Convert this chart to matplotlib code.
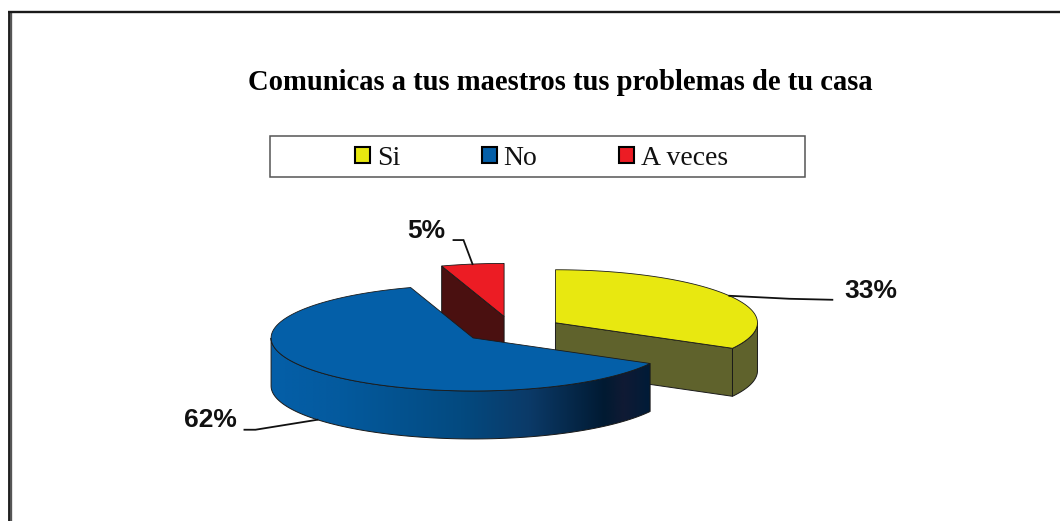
import numpy as np
import matplotlib
matplotlib.use("Agg")
import matplotlib.pyplot as plt
from matplotlib.colors import LinearSegmentedColormap
from matplotlib.patches import Patch, Polygon, Rectangle

# ---- data ----
categories = ["Si", "No", "A veces"]
values = [33, 62, 5]
title = "Comunicas a tus maestros tus problemas de tu casa"

# ---- style ----
top_colors = ["#e8e810", "#045fa8", "#ec1c24"]
cut_colors = ["#5f622c", "#024a80", "#4a1010"]
edge = "#1a1a1a"
CX, CY = 512, 329.5   # pie centre in pixels before exploding
RX, RY = 202, 53      # ellipse radii
DEPTH = 48
EXPLODE = 0.25
START = 90            # degrees, slices run clockwise
# label offset from the anchor in pixels: elbow, line end, ha
LEADERS = {"Si": ((60, 3), (103, 4), "left"),
           "No": ((-62, 10), (-73, 10), "right"),
           "A veces": ((-9, -24), (-19, -24), "right")}

fig = plt.figure(figsize=(10.6, 5.21), dpi=100, facecolor="white")
ax = fig.add_axes([0, 0, 1, 1])
ax.set_xlim(0, 1060)
ax.set_ylim(521, 0)
ax.axis("off")

# frame of the pasted chart
ax.plot([9.5, 9.5], [521, 12], color="#555555", lw=2.4, solid_capstyle="butt", zorder=1)
ax.plot([9, 9], [521, 12], color="#1a1a1a", lw=1.3, solid_capstyle="butt", zorder=1)
ax.plot([8, 1060], [12, 12], color="#1a1a1a", lw=1.7, solid_capstyle="butt", zorder=1)

ax.text(560, 83, title, family="Liberation Serif", weight="bold", fontsize=20.6,
        ha="center", va="center", color="black")

# legend
ax.add_patch(Rectangle((270, 136), 535, 41, fc="white", ec="#555555", lw=1.1, zorder=1))
handles = [Patch(fc=c, ec="black", lw=1.5) for c in top_colors]
leg = ax.legend(handles, categories, ncol=3, frameon=False,
                loc="center", bbox_to_anchor=(541.5, 158.5), bbox_transform=ax.transData,
                prop={"family": "Liberation Serif", "size": 20},
                handlelength=0.52, handleheight=0.52, handletextpad=0.25,
                columnspacing=2.95, labelcolor="#111111")


def arc(cx, cy, a, b, n=120):
    t = np.radians(np.linspace(a, b, n))
    return np.column_stack([cx + RX * np.cos(t), cy - RY * np.sin(t)])


def point(cx, cy, a):
    return arc(cx, cy, a, a, 1)[0]


# slice angles and centres, all from the values
fractions = np.array(values) / sum(values)
ends = START - 360 * np.cumsum(fractions)
starts = ends + 360 * fractions
mids = (starts + ends) / 2
centres = [(CX + EXPLODE * RX * np.cos(np.radians(m)),
            CY - EXPLODE * RY * np.sin(np.radians(m))) for m in mids]

wall_cmap = LinearSegmentedColormap.from_list(
    "wall", [(0, "#045fa8"), (0.18, "#045a9e"), (0.5, "#034a80"),
             (0.68, "#0b3a68"), (0.88, "#011a32"), (0.93, "#101a34"), (1, "#001c38")])

Z = {"A veces": 3, "Si": 4, "No": 5}
for cat, a, b, (cx, cy), top, cut in zip(categories, starts, ends, centres, top_colors, cut_colors):
    z = Z[cat]
    apex = np.array([cx, cy])
    # cut faces that look towards the viewer
    for ang in (a, b):
        p = point(cx, cy, ang)
        to_right = (p - apex)[0]
        faces_front = (ang == b and to_right > 0) or (ang == a and to_right < 0)
        if faces_front:
            quad = np.array([apex, p, p + [0, DEPTH], apex + [0, DEPTH]])
            ax.add_patch(Polygon(quad, fc=cut, ec=edge, lw=0.7, zorder=z))
    # outer wall: the part of the rim on the lower half of the ellipse
    lo, hi = max(b, -180), min(a, 0)
    if b < -180:
        lo = -180
    if hi > lo:
        rim = arc(cx, cy, lo, hi)
        wall = np.vstack([rim, rim[::-1] + [0, DEPTH]])
        if cat == "No":
            patch = Polygon(wall, fc="none", ec="none", zorder=z)
            ax.add_patch(patch)
            x0, x1 = wall[:, 0].min(), wall[:, 0].max()
            y0, y1 = wall[:, 1].min(), wall[:, 1].max()
            im = ax.imshow(np.linspace(0, 1, 256)[None, :], cmap=wall_cmap, aspect="auto",
                           extent=(x0, x1, y1, y0), zorder=z, interpolation="bilinear")
            im.set_clip_path(patch)
            ax.add_patch(Polygon(wall, fc="none", ec=edge, lw=0.7, zorder=z))
        else:
            ax.add_patch(Polygon(wall, fc=cut, ec=edge, lw=0.7, zorder=z))
    # top face
    face = np.vstack([apex, arc(cx, cy, a, b)])
    ax.add_patch(Polygon(face, fc=top, ec=edge, lw=0.6, zorder=z + 0.5))

ax.set_xlim(0, 1060)
ax.set_ylim(521, 0)

# percentage labels and leader lines
for cat, v, m, (cx, cy) in zip(categories, values, mids, centres):
    anchor = point(cx, cy, m)
    if np.sin(np.radians(m)) < 0:
        anchor = anchor + [0, DEPTH]
    elbow, end, ha = LEADERS[cat]
    ax.plot([anchor[0], anchor[0] + elbow[0], anchor[0] + end[0]],
            [anchor[1], anchor[1] + elbow[1], anchor[1] + end[1]],
            color="#111111", lw=1.3, zorder=8, solid_joinstyle="miter")
    pad = 12 if ha == "left" else -8
    dy = -10 if cat == "No" else -9
    ax.text(anchor[0] + end[0] + pad, anchor[1] + end[1] + dy,
            f"{v}%", family="Liberation Sans", weight="bold", fontsize=19,
            ha=ha, va="center", color="#111111", zorder=8)

fig.savefig("out.png", dpi=100, facecolor="white")
